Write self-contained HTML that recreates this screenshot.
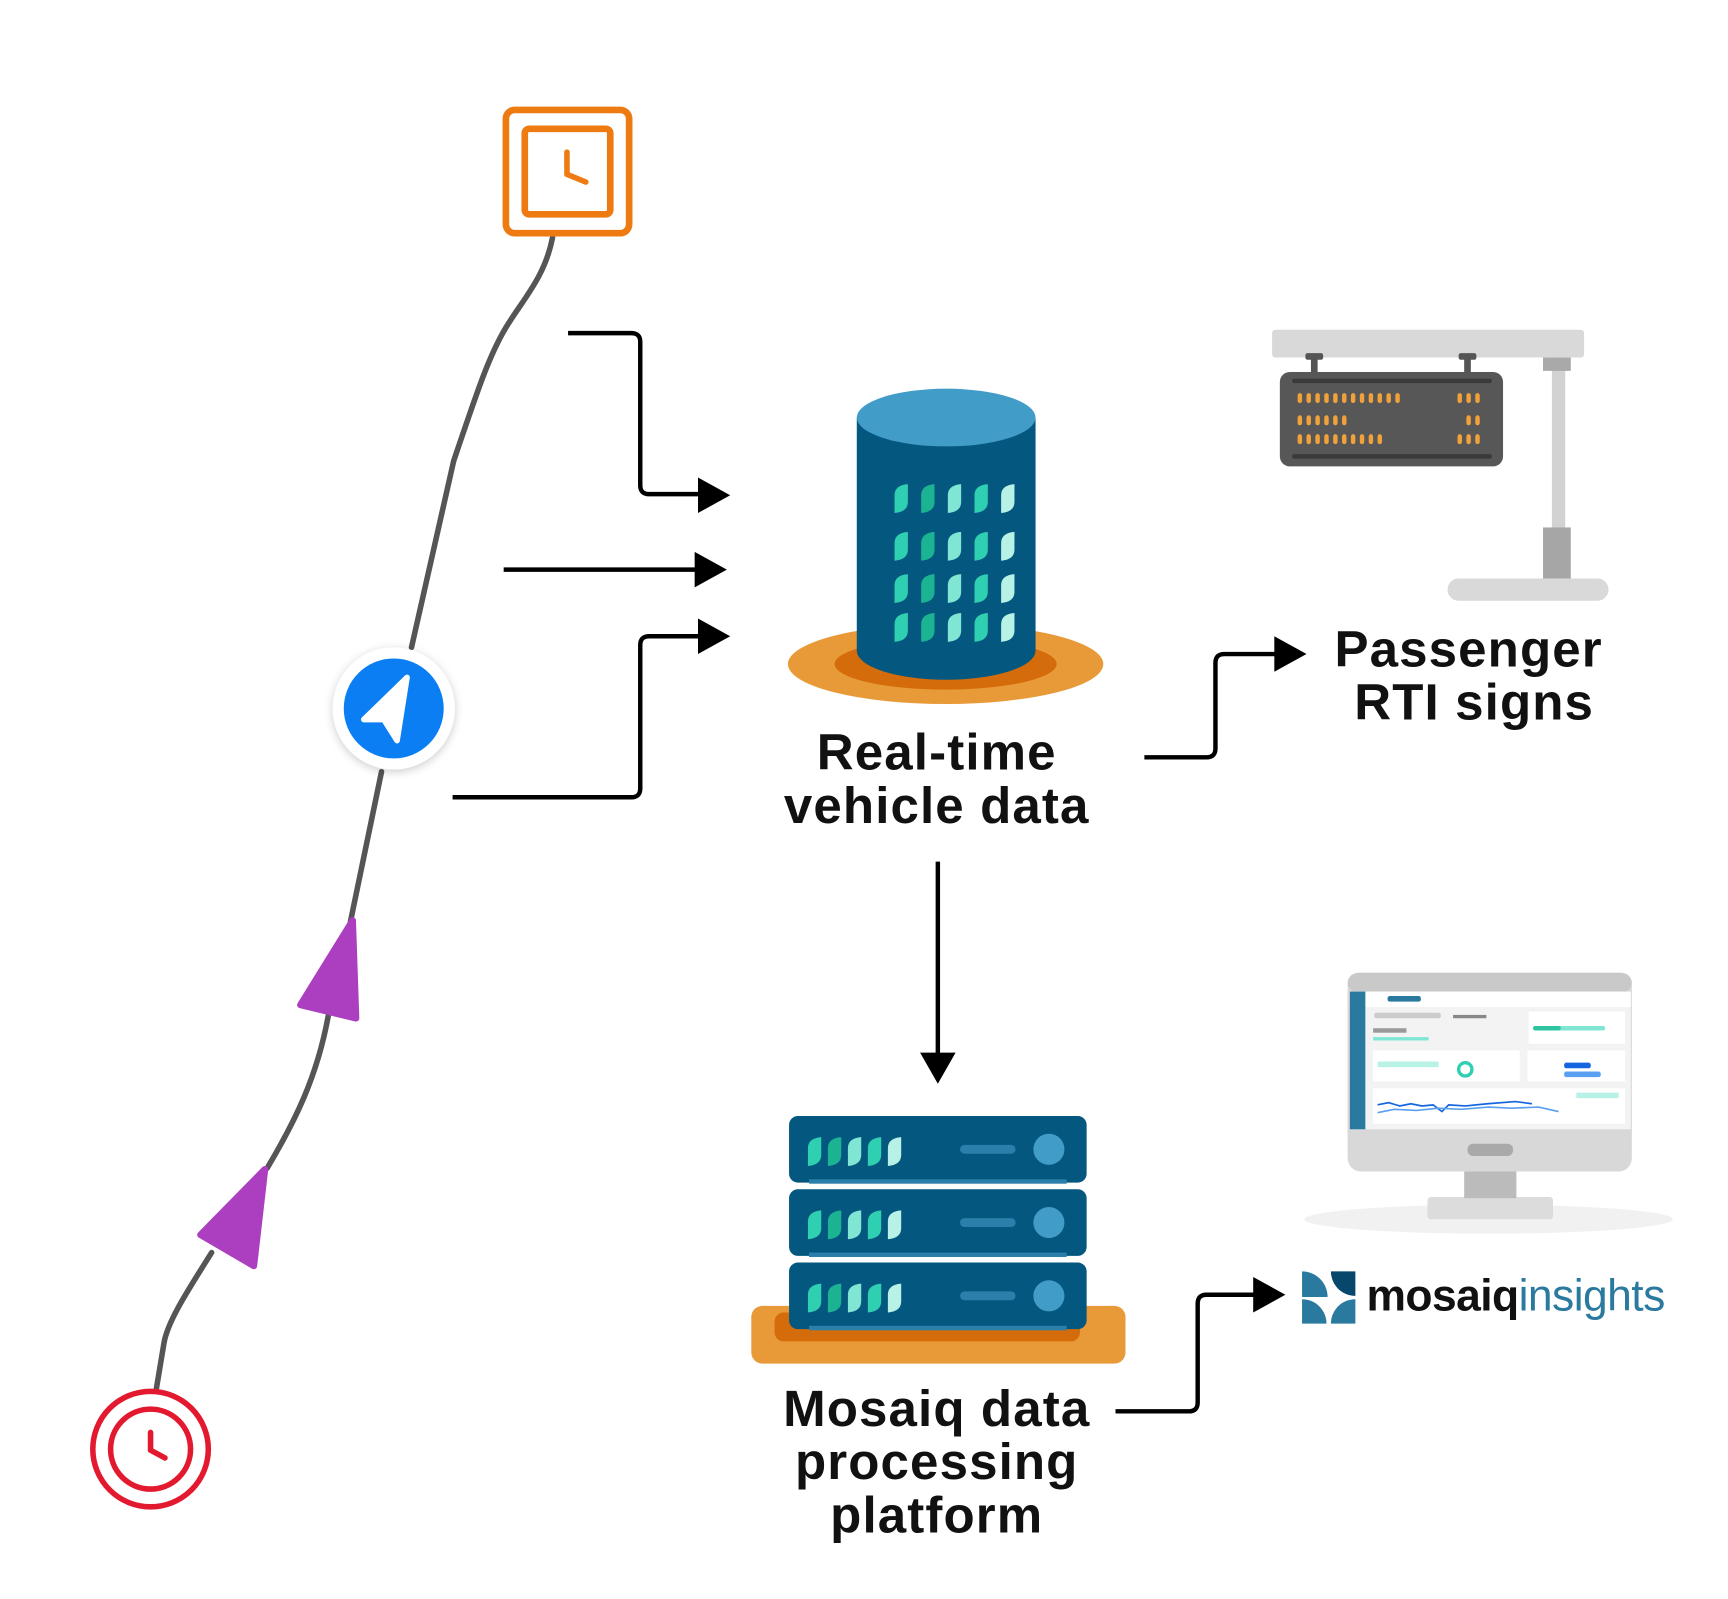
<!DOCTYPE html>
<html><head><meta charset="utf-8"><style>html,body{margin:0;padding:0;background:#fff}svg{display:block}</style></head><body>
<svg width="1728" height="1599" viewBox="0 0 1555 1440" xmlns="http://www.w3.org/2000/svg">
<defs>
<path id="lf" d="M0,24 V9 Q0,0 12,-1 V15 Q12,24 0,25 Z"/>
<filter id="sh" x="-30%" y="-30%" width="160%" height="160%"><feDropShadow dx="0" dy="2" stdDeviation="4" flood-color="#000" flood-opacity="0.2"/></filter>
</defs>
<rect width="1555" height="1440" fill="#fff"/>
<g fill="none" stroke="#555" stroke-width="5" stroke-linecap="round">
<path d="M497,214 C490,250 470,270 455,295 C440,320 430,350 408,415 L370,583"/>
<path d="M343,695 L315,830"/>
<path d="M295,915 C285,970 265,1010 240,1052"/>
<path d="M190,1128 C170,1160 150,1190 147,1210 L140,1252"/>
</g>
<g fill="#ab3fc0" stroke="#ab3fc0" stroke-width="6" stroke-linejoin="round">
<polygon points="317,829 320,917 270,905"/>
<polygon points="238,1053 228,1140 180,1112"/>
</g>
<rect x="455" y="99" width="111" height="111" rx="8" fill="none" stroke="#ee7a12" stroke-width="6"/>
<rect x="472" y="116" width="77" height="77" rx="4" fill="none" stroke="#ee7a12" stroke-width="6"/>
<path d="M510,137 V157 L527,164" fill="none" stroke="#ee7a12" stroke-width="5" stroke-linecap="round" stroke-linejoin="round"/>
<circle cx="135" cy="1305" r="52" fill="#fff" stroke="#e3192f" stroke-width="5"/>
<circle cx="135" cy="1305" r="36" fill="none" stroke="#e3192f" stroke-width="5"/>
<path d="M135,1290 V1306 L148,1313" fill="none" stroke="#e3192f" stroke-width="5" stroke-linecap="round" stroke-linejoin="round"/>
<circle cx="354" cy="638" r="55" fill="#fff" filter="url(#sh)"/>
<circle cx="354" cy="638" r="45" fill="#0a7ef2"/>
<path d="M366,610 L327,648 L345,648 L357,667 Z" fill="#fff" stroke="#fff" stroke-width="5" stroke-linejoin="round"/>
<g fill="none" stroke="#000" stroke-width="4">
<path d="M511,300 H568 Q576,300 576,308 V437 Q576,445 584,445 H632"/>
<path d="M453,513 H628"/>
<path d="M407,718 H568 Q576,718 576,710 V581 Q576,573 584,573 H632"/>
<path d="M1030,682 H1086 Q1094,682 1094,674 V597 Q1094,589 1102,589 H1150"/>
<path d="M844,776 V950"/>
<path d="M1004,1271 H1070 Q1078,1271 1078,1263 V1174 Q1078,1166 1086,1166 H1132"/>
</g>
<g fill="#000">
<polygon points="628,430 657,446 628,462"/>
<polygon points="625,497 654,513 625,529"/>
<polygon points="628,557 657,573 628,589"/>
<polygon points="1147,573 1176,589 1147,605"/>
<polygon points="828,948 844,976 860,948"/>
<polygon points="1128,1150 1157,1166 1128,1182"/>
</g>
<ellipse cx="851" cy="598" rx="142" ry="36" fill="#e99a38"/>
<ellipse cx="851" cy="598" rx="100" ry="23" fill="#d56c0b"/>
<path d="M771,376 V586 A80,26 0 0 0 932,586 V376 Z" fill="#04577f"/>
<ellipse cx="851.5" cy="376" rx="80.5" ry="26" fill="#429cc8"/>
<g>
<g transform="translate(805,437)"><use href="#lf" fill="#2fcfb1"/><use href="#lf" x="24" fill="#1cb393"/><use href="#lf" x="48" fill="#80e6d3"/><use href="#lf" x="72" fill="#2fcfb1"/><use href="#lf" x="96" fill="#b8f2e7"/></g>
<g transform="translate(805,480)"><use href="#lf" fill="#2fcfb1"/><use href="#lf" x="24" fill="#1cb393"/><use href="#lf" x="48" fill="#80e6d3"/><use href="#lf" x="72" fill="#2fcfb1"/><use href="#lf" x="96" fill="#b8f2e7"/></g>
<g transform="translate(805,518)"><use href="#lf" fill="#2fcfb1"/><use href="#lf" x="24" fill="#1cb393"/><use href="#lf" x="48" fill="#80e6d3"/><use href="#lf" x="72" fill="#2fcfb1"/><use href="#lf" x="96" fill="#b8f2e7"/></g>
<g transform="translate(805,553)"><use href="#lf" fill="#2fcfb1"/><use href="#lf" x="24" fill="#1cb393"/><use href="#lf" x="48" fill="#80e6d3"/><use href="#lf" x="72" fill="#2fcfb1"/><use href="#lf" x="96" fill="#b8f2e7"/></g>
</g>
<g font-family="Liberation Sans, sans-serif" font-weight="bold" font-size="46" text-anchor="middle" fill="#111" letter-spacing="1">
<text x="843" y="693">Real-time</text>
<text x="843" y="741">vehicle data</text>
<text x="1322" y="600">Passenger</text>
<text x="1327" y="648">RTI signs</text>
<text x="843" y="1284">Mosaiq data</text>
<text x="843" y="1332">processing</text>
<text x="843" y="1380">platform</text>
</g>
<rect x="1145" y="297" width="281" height="25" rx="3" fill="#d9d9d9"/>
<rect x="1397" y="322" width="12" height="155" fill="#d2d2d2"/>
<rect x="1389" y="322" width="25" height="12" fill="#a9a9a9"/>
<rect x="1389" y="475" width="25" height="53" fill="#a6a6a6"/>
<rect x="1303" y="521" width="145" height="20" rx="10" fill="#d9d9d9"/>
<rect x="1180" y="320" width="6" height="18" fill="#555"/><rect x="1175" y="318" width="16" height="6" rx="2" fill="#555"/>
<rect x="1318" y="320" width="6" height="18" fill="#555"/><rect x="1313" y="318" width="16" height="6" rx="2" fill="#555"/>
<rect x="1152" y="335" width="201" height="85" rx="9" fill="#575757"/>
<rect x="1163" y="341" width="180" height="4" rx="2" fill="#3a3a3a"/>
<rect x="1163" y="409" width="180" height="4" rx="2" fill="#3a3a3a"/>
<g fill="#f0a13a">
<g id="r1"><rect x="1168" y="354" width="4" height="9" rx="2"/><rect x="1176" y="354" width="4" height="9" rx="2"/><rect x="1184" y="354" width="4" height="9" rx="2"/><rect x="1192" y="354" width="4" height="9" rx="2"/><rect x="1200" y="354" width="4" height="9" rx="2"/><rect x="1208" y="354" width="4" height="9" rx="2"/></g>
<rect x="1216" y="354" width="4" height="9" rx="2"/><rect x="1224" y="354" width="4" height="9" rx="2"/><rect x="1232" y="354" width="4" height="9" rx="2"/><rect x="1240" y="354" width="4" height="9" rx="2"/><rect x="1248" y="354" width="4" height="9" rx="2"/><rect x="1256" y="354" width="4" height="9" rx="2"/>
<use href="#r1" y="20"/>
<use href="#r1" y="37"/><rect x="1216" y="391" width="4" height="9" rx="2"/><rect x="1224" y="391" width="4" height="9" rx="2"/><rect x="1232" y="391" width="4" height="9" rx="2"/><rect x="1240" y="391" width="4" height="9" rx="2"/>
<rect x="1312" y="354" width="4" height="9" rx="2"/><rect x="1320" y="354" width="4" height="9" rx="2"/><rect x="1328" y="354" width="4" height="9" rx="2"/>
<rect x="1320" y="374" width="4" height="9" rx="2"/><rect x="1328" y="374" width="4" height="9" rx="2"/>
<rect x="1312" y="391" width="4" height="9" rx="2"/><rect x="1320" y="391" width="4" height="9" rx="2"/><rect x="1328" y="391" width="4" height="9" rx="2"/>
</g>
<rect x="676" y="1176" width="337" height="52" rx="10" fill="#e99a38"/>
<rect x="697" y="1182" width="275" height="26" rx="8" fill="#d56c0b"/>
<g id="srv">
<rect x="710" y="1005" width="268" height="60" rx="8" fill="#04577f"/>
<rect x="728" y="1062" width="232" height="4" fill="#2a80aa"/>
<g transform="translate(727,1025)"><use href="#lf" fill="#2fcfb1"/><use href="#lf" x="18" fill="#1cb393"/><use href="#lf" x="36" fill="#80e6d3"/><use href="#lf" x="54" fill="#2fcfb1"/><use href="#lf" x="72" fill="#b8f2e7"/></g>
<rect x="864" y="1031" width="50" height="8" rx="4" fill="#2a80aa"/>
<circle cx="944" cy="1035" r="14" fill="#429cc8"/>
</g>
<use href="#srv" y="66"/>
<use href="#srv" y="132"/>
<ellipse cx="1340" cy="1098" rx="166" ry="13" fill="#f1f1f1"/>
<rect x="1285" y="1078" width="113" height="20" rx="3" fill="#dcdcdc"/>
<rect x="1318" y="1052" width="47" height="27" fill="#bbb"/>
<rect x="1213" y="876" width="256" height="179" rx="12" fill="#d8d8d8"/>
<rect x="1213" y="876" width="256" height="18" rx="10" fill="#c9c9c9"/>
<rect x="1215" y="893" width="253" height="124" fill="#f3f3f3"/>
<rect x="1215" y="893" width="253" height="14" fill="#fff"/>
<rect x="1215" y="893" width="14" height="124" fill="#2a7aa0"/>
<rect x="1321" y="1030" width="41" height="11" rx="5" fill="#a9a9a9"/>
<rect x="1249" y="897" width="30" height="5" rx="2" fill="#2a7aa0"/>
<rect x="1237" y="912" width="60" height="5" rx="2" fill="#ccc"/><rect x="1308" y="914" width="30" height="3" fill="#888"/>
<rect x="1236" y="926" width="30" height="4" fill="#999"/>
<rect x="1236" y="934" width="50" height="3" fill="#7fe6d3"/>
<rect x="1376" y="911" width="87" height="29" fill="#fff"/><rect x="1380" y="924" width="65" height="4" rx="2" fill="#7fe6d3"/><rect x="1380" y="924" width="25" height="4" rx="2" fill="#2ec4a0"/>
<rect x="1236" y="946" width="132" height="28" fill="#fff"/><rect x="1240" y="956" width="55" height="5" fill="#b8f2e7"/>
<circle cx="1319" cy="963" r="6" fill="none" stroke="#2fcfb1" stroke-width="3"/>
<rect x="1375" y="946" width="88" height="28" fill="#fff"/><rect x="1408" y="957" width="24" height="5" rx="2" fill="#1565e0"/><rect x="1408" y="965" width="33" height="5" rx="2" fill="#5aa0f0"/>
<rect x="1236" y="980" width="227" height="32" fill="#fff"/>
<path d="M1240,995 l10,-2 l10,3 l10,-2 l10,2 l10,-1 l8,6 l6,-6 l15,1 l20,-2 l25,-2 l15,2" fill="none" stroke="#1565e0" stroke-width="1.5"/>
<path d="M1240,1002 l15,-3 l20,1 l20,-2 l20,1 l25,-2 l20,1 l25,-1 l18,4" fill="none" stroke="#5aa0f0" stroke-width="1.5"/>
<rect x="1419" y="984" width="38" height="5" fill="#b8f2e7"/>
<g fill="#2a7aa0">
<path d="M1172,1145 H1195 V1168 A23,23 0 0 1 1172,1145 Z" transform="rotate(180 1183.5 1156.5)"/>
<path d="M1198,1145 H1220 V1167 A22,22 0 0 1 1198,1145 Z" fill="#06476b"/>
<path d="M1172,1192 V1170 A22,22 0 0 1 1194,1192 Z"/>
<path d="M1220,1192 V1170 A22,22 0 0 0 1198,1192 Z"/>
</g>
<text x="1230" y="1180" font-family="Liberation Sans, sans-serif" font-size="40" letter-spacing="-0.5"><tspan font-weight="bold" fill="#111">mosaiq</tspan><tspan fill="#2a7aa0">insights</tspan></text>
</svg>
</body></html>
